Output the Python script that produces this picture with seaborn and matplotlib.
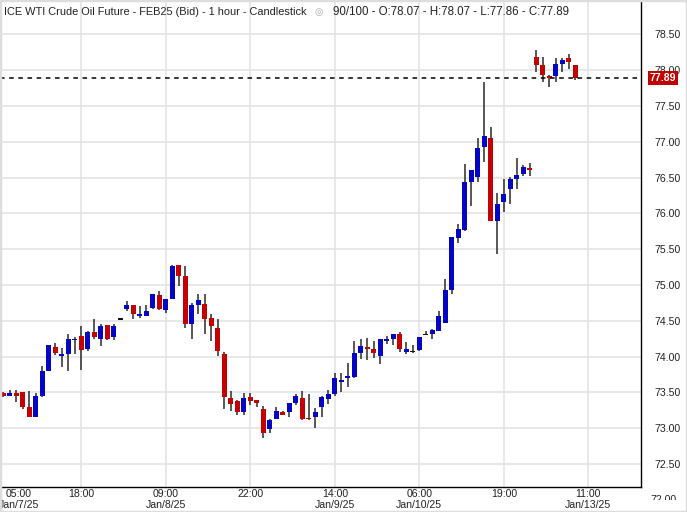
import numpy as np
import pandas as pd
import matplotlib
matplotlib.use('Agg')
import matplotlib.pyplot as plt
import matplotlib.transforms as mtransforms
from matplotlib.patches import Rectangle
import seaborn as sns

# hourly bars, ICE WTI FEB25 (bid), Jan 7 - Jan 13 2025
opens = [73.49, 73.45, 73.49, 73.51, 73.30, 73.15, 73.45, 73.80, 74.13, 74.01,
         74.04, 74.235, 74.29, 74.11, 74.34, 74.25, 74.44, 74.28, 74.52, 74.66,
         74.72, 74.57, 74.57, 74.68, 74.86, 74.65, 74.81, 75.28, 75.13, 74.46,
         74.72, 74.73, 74.54, 74.40, 74.04, 73.42, 73.38, 73.22, 73.44, 73.39,
         73.27, 72.99, 73.13, 73.23, 73.22, 73.35, 73.42, 73.14, 73.15, 73.29,
         73.41, 73.48, 73.655, 73.70, 73.71, 74.05, 74.13, 74.11, 74.01, 74.22,
         74.24, 74.32, 74.07, 74.07, 74.09, 74.31, 74.32, 74.36, 74.47, 74.93,
         75.66, 75.77, 76.44, 76.51, 76.93, 77.05, 75.89, 76.16, 76.34, 76.48,
         76.55, 76.63, 78.18, 78.07, 77.91, 77.92, 78.09, 78.17, 78.07]
highs = [73.50, 73.53, 73.53, 73.51, 73.52, 73.49, 73.87, 74.16, 74.19, 74.12,
         74.32, 74.28, 74.43, 74.36, 74.52, 74.46, 74.44, 74.46, 74.52, 74.78,
         74.72, 74.71, 74.72, 74.88, 74.92, 74.80, 75.28, 75.28, 75.26, 74.75,
         74.87, 74.87, 74.59, 74.53, 74.06, 73.52, 73.39, 73.49, 73.49, 73.39,
         73.31, 73.13, 73.30, 73.24, 73.35, 73.48, 73.52, 73.48, 73.28, 73.45,
         73.53, 73.77, 73.77, 73.91, 74.22, 74.25, 74.26, 74.22, 74.25, 74.29,
         74.32, 74.35, 74.20, 74.16, 74.27, 74.36, 74.39, 74.64, 75.08, 75.67,
         75.85, 76.69, 76.61, 77.05, 77.84, 77.21, 76.28, 76.48, 76.51, 76.77,
         76.68, 76.70, 78.28, 78.18, 77.93, 78.17, 78.17, 78.23, 78.07]
lows = [73.43, 73.45, 73.37, 73.27, 73.15, 73.15, 73.43, 73.80, 74.02, 73.85,
        73.80, 74.04, 73.81, 74.08, 74.25, 74.15, 74.23, 74.23, 74.52, 74.64,
        74.53, 74.54, 74.57, 74.66, 74.65, 74.61, 74.81, 74.99, 74.40, 74.25,
        74.60, 74.32, 74.22, 74.01, 73.27, 73.24, 73.19, 73.19, 73.32, 73.30,
        72.87, 72.94, 73.13, 73.18, 73.15, 73.32, 73.12, 73.11, 73.01, 73.15,
        73.34, 73.45, 73.50, 73.58, 73.70, 73.97, 73.95, 73.98, 73.90, 74.18,
        74.16, 74.07, 74.03, 74.05, 74.08, 74.30, 74.25, 74.36, 74.47, 74.88,
        75.58, 75.75, 76.10, 76.44, 76.72, 75.89, 75.43, 76.02, 76.13, 76.34,
        76.52, 76.52, 77.97, 77.84, 77.77, 77.84, 77.97, 78.02, 77.86]
closes = [73.45, 73.49, 73.45, 73.29, 73.15, 73.45, 73.80, 74.16, 74.05, 74.04,
          74.25, 74.245, 74.09, 74.34, 74.28, 74.43, 74.24, 74.43, 74.52, 74.72,
          74.59, 74.60, 74.64, 74.87, 74.66, 74.80, 75.26, 75.13, 74.46, 74.72,
          74.79, 74.53, 74.43, 74.08, 73.43, 73.34, 73.22, 73.42, 73.38, 73.35,
          72.94, 73.11, 73.24, 73.18, 73.35, 73.45, 73.13, 73.13, 73.23, 73.44,
          73.48, 73.70, 73.665, 73.73, 74.05, 74.15, 74.11, 74.05, 74.25, 74.25,
          74.31, 74.10, 74.11, 74.07, 74.27, 74.31, 74.37, 74.57, 74.93, 75.67,
          75.78, 76.44, 76.61, 76.91, 77.08, 75.89, 76.13, 76.27, 76.48, 76.54,
          76.65, 76.61, 78.07, 77.93, 77.90, 78.09, 78.14, 78.11, 77.89]

tick_pos = [12, 25, 38, 51, 64, 77, 90]
tick_labels = ['18:00', '09:00\nJan/8/25', '22:00', '14:00\nJan/9/25',
               '06:00\nJan/10/25', '19:00', '11:00\nJan/13/25']
first_label = '05:00\nJan/7/25'
y_ticks = [72.5, 73.0, 73.5, 74.0, 74.5, 75.0, 75.5, 76.0, 76.5, 77.0, 77.5, 78.0, 78.5]
last_price = 77.89

UP, DOWN, FLAT = '#0505c4', '#c40000', '#111111'

df = pd.DataFrame({'open': opens, 'high': highs, 'low': lows, 'close': closes})
df['idx'] = np.arange(len(df))
df['color'] = np.where(df['close'] > df['open'], UP,
                       np.where(df['close'] < df['open'], DOWN, FLAT))
df['bottom'] = df[['open', 'close']].min(axis=1)
df['height'] = (df['close'] - df['open']).abs()
thin = df['height'] < 0.025
df.loc[thin, 'bottom'] = (df.loc[thin, 'open'] + df.loc[thin, 'close']) / 2 - 0.0125
df.loc[thin, 'height'] = 0.025

sns.set_style('white')
plt.rcParams['font.family'] = ['Liberation Sans', 'DejaVu Sans']

fig = plt.figure(figsize=(6.87, 5.12), dpi=100)
ax = fig.add_axes([0, 24.7 / 512, 640.7 / 687, 487.3 / 512])

ax.vlines(df['idx'], df['low'], df['high'], color='#2a2a2a', lw=1.1, zorder=2)
ax.bar(df['idx'], df['height'], bottom=df['bottom'], width=0.76,
       color=df['color'], linewidth=0, zorder=3)

ax.set_xlim(-0.51, 98.06)
ax.set_ylim(72.175, 78.98)

ax.set_xticks(tick_pos)
ax.set_xticklabels(tick_labels, linespacing=1.05)
ax.yaxis.tick_right()
ax.set_yticks(y_ticks)
ax.set_yticklabels(['%.2f' % v for v in y_ticks])
ax.tick_params(axis='y', length=0, pad=10, labelsize=7.6, labelcolor='#222222')
ax.tick_params(axis='x', length=0, pad=1.5, labelsize=7.6, labelcolor='#222222')
ax.grid(True, color='#e4e4e4', lw=1.2)
ax.set_axisbelow(True)

for s in ['left', 'top']:
    ax.spines[s].set_visible(False)
for s in ['right', 'bottom']:
    ax.spines[s].set_color('black')
    ax.spines[s].set_linewidth(1.0)

# first date label is pushed inside the view
off = mtransforms.ScaledTranslation(0, -1.5 / 72, fig.dpi_scale_trans)
ax.text(19 / 640.7, 0, first_label, transform=ax.transAxes + off, ha='center',
        va='top', fontsize=7.6, color='#222222', linespacing=1.05)

# price labels that fall outside the view
yt = mtransforms.blended_transform_factory(fig.transFigure, ax.transData)
t79 = fig.text(650.7 / 687, 79.0, '79.00', transform=yt, va='center', ha='left',
               fontsize=7.6, color='#222222')
t72 = fig.text(650.7 / 687, 72.0, '72.00', transform=yt, va='center', ha='left',
               fontsize=7.6, color='#222222')
t72.set_clip_box(mtransforms.Bbox.from_extents(641, 12, 687, 512))
t72.set_clip_on(True)

# last price line and tag
ax.axhline(last_price, color='black', ls=(0, (3, 3)), lw=1.1, zorder=4)
pt = mtransforms.blended_transform_factory(ax.transAxes, ax.transData)
ax.text(1 + 22 / 640.7, last_price, '%.2f' % last_price, transform=pt,
        ha='center', va='center', fontsize=7.6, color='white', fontweight='bold',
        clip_on=False, zorder=10,
        bbox=dict(boxstyle='square,pad=0.18', fc='#c00000', ec='none'))

# header
fig.text(4 / 687, 1 - 12 / 512, 'ICE WTI Crude Oil Future - FEB25 (Bid) - 1 hour - Candlestick',
         ha='left', va='center', fontsize=7.9, color='#222222')
fig.text(319 / 687, 1 - 12 / 512, '\u25ce', ha='center', va='center', fontsize=7,
         color='#aaaaaa', family='DejaVu Sans')
fig.text(333 / 687, 1 - 12 / 512, '90/100 - O:78.07 - H:78.07 - L:77.86 - C:77.89',
         ha='left', va='center', fontsize=8.3, color='#222222')

fig.patches.append(Rectangle((0, 0), 1, 1, transform=fig.transFigure, fill=False,
                             ec='#dddddd', lw=2.5, zorder=20))

fig.savefig('out.png', dpi=100)
